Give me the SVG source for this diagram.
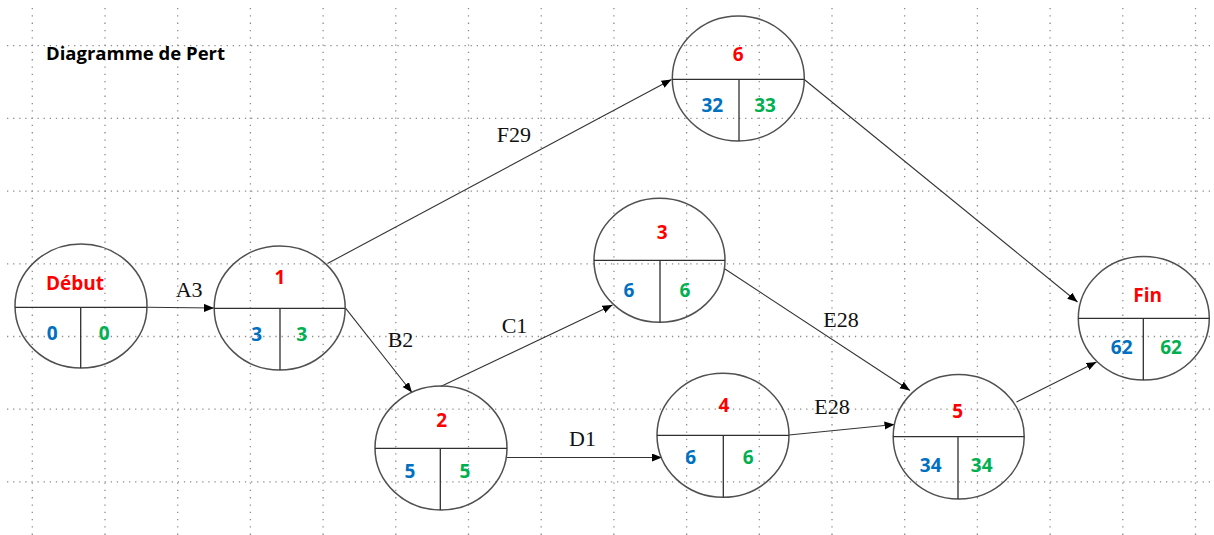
<svg xmlns="http://www.w3.org/2000/svg" width="1214" height="535" viewBox="0 0 1214 535">
<style>
.bg{fill:#ffffff}
.gh{stroke:#8c8c8c;stroke-width:1.3;stroke-dasharray:1.3 4.8;fill:none}
.gv{stroke:#8c8c8c;stroke-width:1.3;stroke-dasharray:1.3 6;fill:none}
.node ellipse{fill:none;stroke:#505050;stroke-width:1.5}
.node path{fill:none;stroke:#303030;stroke-width:1.3}
.conn path{fill:none;stroke:#333333;stroke-width:1.1}
.t{font-family:"Open Sans","Noto Sans",sans-serif;font-weight:bold;font-size:19px;text-anchor:middle}
.r{fill:#ff0000}
.b{fill:#0070c0}
.g{fill:#00b050}
.lbl{font-family:"Liberation Serif","Times New Roman",serif;font-size:22px;fill:#111111}
.title{font-family:"Open Sans","Noto Sans",sans-serif;font-weight:bold;font-size:18.5px;fill:#000000}
</style>
<defs>
<marker id="arr" markerUnits="userSpaceOnUse" markerWidth="12" markerHeight="10" refX="10" refY="4" orient="auto">
<path d="M0,0 L10,4 L0,8 Z" fill="#000000"/>
</marker>
</defs>
<rect class="bg" x="0" y="0" width="1214" height="535"/>
<g id="grid">
<path class="gh" d="M7,45.7H1214M7,118.4H1214M7,191.1H1214M7,263.8H1214M7,336.5H1214M7,409.2H1214M7,481.9H1214"/>
<path class="gv" d="M32.3,8V535M105,8V535M177.7,8V535M250.4,8V535M323.1,8V535M395.8,8V535M468.5,8V535M541.2,8V535M613.9,8V535M686.6,8V535M759.3,8V535M832,8V535M904.7,8V535M977.4,8V535M1050.1,8V535M1122.8,8V535M1195.5,8V535"/>
</g>
<text class="title" x="46" y="60">Diagramme de Pert</text>
<g id="connectors" class="conn">
<path d="M146.7,307.3 L214,308" marker-end="url(#arr)"/>
<path d="M327.5,263.5 L671.5,79.5" marker-end="url(#arr)"/>
<path d="M345.7,308.3 L412,392.5" marker-end="url(#arr)"/>
<path d="M440.7,386.5 L612.5,305" marker-end="url(#arr)"/>
<path d="M507,457.5 L662,457.5" marker-end="url(#arr)"/>
<path d="M725,269 L910,390.5" marker-end="url(#arr)"/>
<path d="M789,435 L894.5,424.5" marker-end="url(#arr)"/>
<path d="M1016.5,402 L1096.5,362" marker-end="url(#arr)"/>
<path d="M804.3,79.5 L1077.5,302" marker-end="url(#arr)"/>
<text class="lbl" x="175.7" y="296.7">A3</text>
<text class="lbl" x="496.7" y="142.3">F29</text>
<text class="lbl" x="387.7" y="347.3">B2</text>
<text class="lbl" x="501.7" y="333.3">C1</text>
<text class="lbl" x="569" y="445.7">D1</text>
<text class="lbl" x="823.3" y="326.7">E28</text>
<text class="lbl" x="814.3" y="414">E28</text>
</g>
<g id="node-debut" class="node">
<ellipse cx="81" cy="306" rx="66" ry="62"/>
<path d="M15,307.3H147M80.7,307.3V368"/>
<text class="t r" x="75" y="290">Début</text>
<text class="t b" x="52.3" y="340">0</text>
<text class="t g" x="104.3" y="340">0</text>
</g>
<g id="node-1" class="node">
<ellipse cx="279.7" cy="308" rx="65.5" ry="62"/>
<path d="M214.2,308.3H345.2M280,308.3V370"/>
<text class="t r" x="280" y="284">1</text>
<text class="t b" x="256.7" y="340.7">3</text>
<text class="t g" x="301.7" y="340.7">3</text>
</g>
<g id="node-6" class="node">
<ellipse cx="738.3" cy="78.5" rx="66" ry="62.5"/>
<path d="M672.3,79.3H804.3M739,79.3V141"/>
<text class="t r" x="738.3" y="61">6</text>
<text class="t b" x="712.3" y="111.7">32</text>
<text class="t g" x="765" y="111.7">33</text>
</g>
<g id="node-2" class="node">
<ellipse cx="441" cy="448" rx="66" ry="62"/>
<path d="M375,448.3H507M440.3,448.3V510"/>
<text class="t r" x="441.7" y="426.7">2</text>
<text class="t b" x="410" y="478.3">5</text>
<text class="t g" x="465" y="478.3">5</text>
</g>
<g id="node-3" class="node">
<ellipse cx="659.5" cy="260.3" rx="65.5" ry="62"/>
<path d="M594,260.3H725M660,260.3V322.3"/>
<text class="t r" x="662.3" y="239.3">3</text>
<text class="t b" x="629" y="297.3">6</text>
<text class="t g" x="685" y="297.3">6</text>
</g>
<g id="node-4" class="node">
<ellipse cx="723" cy="435.3" rx="66" ry="62"/>
<path d="M657,435.3H789M723.3,435.3V497.3"/>
<text class="t r" x="724" y="411.7">4</text>
<text class="t b" x="690.7" y="464">6</text>
<text class="t g" x="748.3" y="464">6</text>
</g>
<g id="node-5" class="node">
<ellipse cx="958.7" cy="436.7" rx="65.5" ry="62.3"/>
<path d="M893.2,436.7H1024.2M958,436.7V499"/>
<text class="t r" x="957.7" y="417.7">5</text>
<text class="t b" x="930.7" y="472.3">34</text>
<text class="t g" x="981.7" y="472.3">34</text>
</g>
<g id="node-fin" class="node">
<ellipse cx="1143.8" cy="318.3" rx="65.5" ry="61.7"/>
<path d="M1078.3,318.3H1209.3M1143.3,318.3V380"/>
<text class="t r" x="1147.7" y="301.7">Fin</text>
<text class="t b" x="1121.7" y="354.3">62</text>
<text class="t g" x="1171" y="354.3">62</text>
</g>
</svg>
